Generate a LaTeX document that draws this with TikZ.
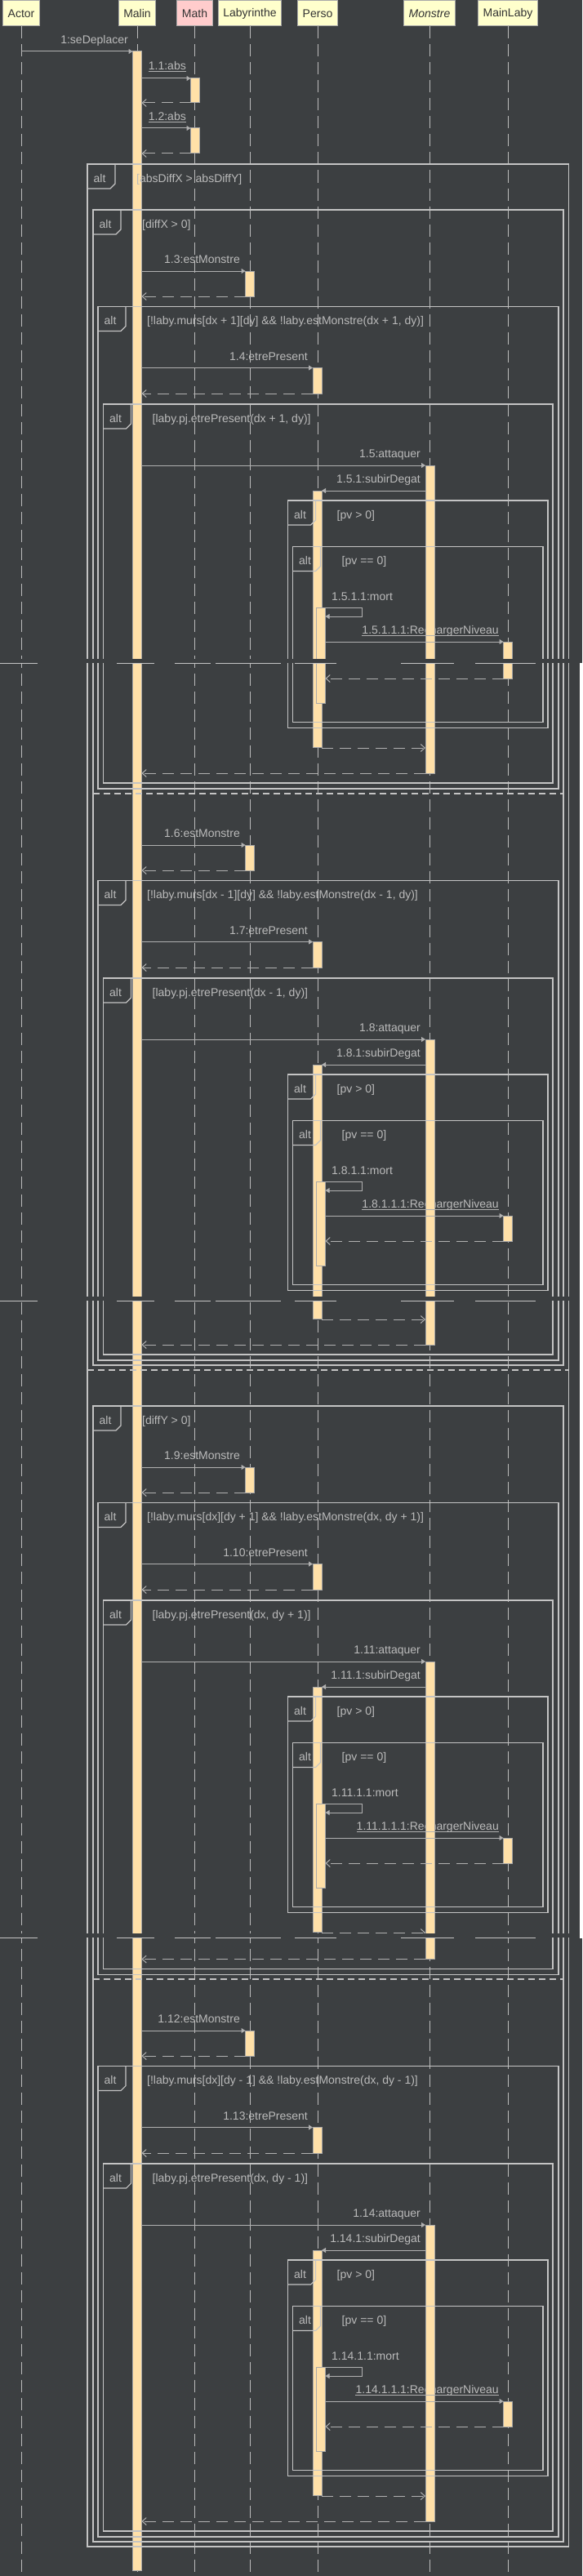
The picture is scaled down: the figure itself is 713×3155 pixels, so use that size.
\documentclass[tikz,border=0pt]{standalone}
\usepackage{fontspec}
\setmainfont{Liberation Sans}
\usetikzlibrary{arrows.meta}

\definecolor{bgdark}{RGB}{60,63,65}
\definecolor{txtgray}{RGB}{187,187,187}
\definecolor{msggray}{RGB}{176,176,176}
\definecolor{framegray}{RGB}{196,196,196}
\definecolor{barfill}{RGB}{255,224,168}
\definecolor{barline}{RGB}{168,168,168}
\definecolor{headfill}{RGB}{255,255,204}
\definecolor{mathpink}{RGB}{255,204,204}
\definecolor{headtext}{RGB}{51,51,51}

\pgfdeclarelayer{lifelayer}
\pgfdeclarelayer{textlayer}
\pgfdeclarelayer{barlayer}
\pgfdeclarelayer{toplayer}
\pgfsetlayers{lifelayer,textlayer,barlayer,main,toplayer}

\tikzset{
  lbl/.style={text=txtgray,font=\fontsize{14}{16}\selectfont,inner sep=0pt},
  head/.style={draw=barline,fill=headfill,text=headtext,font=\fontsize{14}{16}\selectfont,
    inner xsep=6pt,inner ysep=0pt,minimum height=31pt,line width=1pt},
  life/.style={draw=txtgray,line width=1pt,dash pattern=on 15pt off 7pt},
  bar/.style={draw=barline,fill=barfill,line width=1pt},
  frame/.style={draw=framegray,line width=1.1pt},
  sep/.style={draw=framegray,line width=1.1pt,dash pattern=on 8pt off 5pt},
  call/.style={draw=msggray,line width=1pt,-{Triangle[length=5pt,width=6pt]}},
  ret/.style={draw=msggray,line width=1pt,dash pattern=on 14pt off 8pt,-{Straight Barb[length=5pt,width=9pt]}},
  msgline/.style={draw=msggray,line width=1pt}
}

% alt frame: name, left, top, right, bottom, guard
\newcommand{\altbox}[6]{%
  \draw[frame] (#2,#3) rectangle (#4,#5);
  \draw[frame] (#2,#3+30) -- (#2+28,#3+30) -- (#2+34,#3+24) -- (#2+34,#3);
  \node[lbl,anchor=base] (#1alt) at (#2+15,#3+22) {alt};
  \node[lbl,anchor=base west] (#1guard) at (#2+60,#3+22) {#6};
}

% one move branch: top, shifts after page breaks, first number, guards
\newcommand{\branch}[7]{%
  \edef\nb{\the\numexpr#5+1\relax}%
  \edef\nc{\the\numexpr#5+2\relax}%
  \begin{pgfonlayer}{textlayer}
    \node[lbl,anchor=base east] (m#5a) at (294,#1+65.5) {1.#5:estMonstre};
    \node[lbl,anchor=base east] (m#5b) at (377,#1+184) {1.\nb:etrePresent};
    \node[lbl,anchor=base east] (m#5c) at (515,#1+303) {1.\nc:attaquer};
    \node[lbl,anchor=base east] (m#5d) at (515,#1+334.5) {1.\nc.1:subirDegat};
    \node[lbl,anchor=base west] (m#5e) at (406,#1+478) {1.\nc.1.1:mort};
    \node[lbl,anchor=base east] (m#5f) at (611,#1+519) {1.\nc.1.1.1:RechargerNiveau};
  \end{pgfonlayer}
  \begin{pgfonlayer}{barlayer}
    \draw[bar] (300.5,#1+75) rectangle (311.5,#1+106);
    \draw[bar] (383,#1+193.5) rectangle (394,#1+225);
    \draw[bar] (521,#1+313) rectangle (532,#1+676+#4);
    \draw[bar] (383,#1+344) rectangle (394,#1+644+#3);
    \draw[bar] (387.5,#1+487.5) rectangle (398.5,#1+590.5+#2);
    \draw[bar] (616.5,#1+529) rectangle (627.5,#1+560+#2);
  \end{pgfonlayer}
  \altbox{c#5}{120}{#1+118.5}{684}{#1+695+#4}{#6}
  \altbox{d#5}{126.5}{#1+238}{677}{#1+688+#4}{#7}
  \altbox{e#5}{352.5}{#1+356}{671}{#1+620.5+#2}{[pv > 0]}
  \altbox{f#5}{358.5}{#1+412.5}{665}{#1+613.5+#2}{[pv == 0]}
  \draw[call] (173.5,#1+75) -- (300.5,#1+75);
  \draw[ret] (300.5,#1+106) -- (173.5,#1+106);
  \draw[call] (173.5,#1+193.5) -- (383,#1+193.5);
  \draw[ret] (383,#1+225) -- (173.5,#1+225);
  \draw[call] (173.5,#1+313) -- (521,#1+313);
  \draw[call] (521,#1+344) -- (394,#1+344);
  \draw[call] (394,#1+487.5) -- (443,#1+487.5) -- (443,#1+498) -- (398.5,#1+498);
  \draw[msgline] ([yshift=-2pt]m#5f.base west) -- ([yshift=-2pt]m#5f.base east);
  \draw[call] (398.5,#1+529) -- (616.5,#1+529);
  \draw[ret] (616.5,#1+560+#2) -- (398.5,#1+560+#2);
  \draw[ret] (394,#1+645+#3) -- (521,#1+645+#3);
  \draw[ret] (521,#1+676+#4) -- (173.5,#1+676+#4);
}

\begin{document}
\begin{tikzpicture}[x=1pt,y=-1pt,line cap=butt,line join=miter]
  \useasboundingbox (0,0) rectangle (713,3155);
  \begin{pgfonlayer}{lifelayer}
    \fill[bgdark] (0,0) rectangle (713,3155);
  \end{pgfonlayer}

  \node[head] (actor) at (26,16.5) {Actor};
  \node[head] (malin) at (168,16.5) {Malin};
  \node[head,fill=mathpink] (math) at (238.5,16.5) {Math};
  \node[head] (laby) at (306,16.5) {Labyrinthe};
  \node[head] (perso) at (389,16.5) {Perso};
  \node[head,font=\fontsize{14}{16}\selectfont\itshape] (monstre) at (526,16.5) {Monstre};
  \node[head] (mainlaby) at (622,16.5) {MainLaby};

  \begin{pgfonlayer}{lifelayer}
    \foreach \p in {actor,malin,math,laby,perso,monstre,mainlaby}
      \draw[life] (\p.south) -- (\p.south |- 0,3150);
  \end{pgfonlayer}

  \begin{pgfonlayer}{textlayer}
    \node[lbl,anchor=base east] (se) at (157,54) {1:seDeplacer};
    \node[lbl,anchor=base east] (abs1) at (228,86) {1.1:abs};
    \node[lbl,anchor=base east] (abs2) at (228,148) {1.2:abs};
  \end{pgfonlayer}
  \begin{pgfonlayer}{barlayer}
    \draw[bar] (162.5,63) rectangle (173.5,3148);
    \draw[bar] (233.5,96) rectangle (244.5,126);
    \draw[bar] (233.5,157) rectangle (244.5,188);
  \end{pgfonlayer}

  \draw[call] (actor.south |- 0,63) -- (162.5,63);
  \draw[msgline] ([yshift=-2pt]abs1.base west) -- ([yshift=-2pt]abs1.base east);
  \draw[call] (173.5,96) -- (233.5,96);
  \draw[ret] (233.5,126) -- (173.5,126);
  \draw[msgline] ([yshift=-2pt]abs2.base west) -- ([yshift=-2pt]abs2.base east);
  \draw[call] (173.5,157) -- (233.5,157);
  \draw[ret] (233.5,188) -- (173.5,188);

  \altbox{a}{107}{201}{696.5}{3119}{[absDiffX > absDiffY]}
  \draw[sep] (107,1678) -- (696.5,1678);
  \altbox{bx}{114}{257}{690}{1672}{[diffX > 0]}
  \draw[sep] (114,972) -- (690,972);
  \altbox{by}{114}{1722}{690}{3113}{[diffY > 0]}
  \draw[sep] (114,2424) -- (690,2424);

  \branch{257}{14}{14}{14}{3}{[!laby.murs[dx + 1][dy] \&\& !laby.estMonstre(dx + 1, dy)]}{[laby.pj.etrePresent(dx + 1, dy)]}
  \branch{960}{0}{11}{11}{6}{[!laby.murs[dx - 1][dy] \&\& !laby.estMonstre(dx - 1, dy)]}{[laby.pj.etrePresent(dx - 1, dy)]}
  \branch{1722}{0}{0}{1.5}{9}{[!laby.murs[dx][dy + 1] \&\& !laby.estMonstre(dx, dy + 1)]}{[laby.pj.etrePresent(dx, dy + 1)]}
  \branch{2412}{0}{0}{0}{12}{[!laby.murs[dx][dy - 1] \&\& !laby.estMonstre(dx, dy - 1)]}{[laby.pj.etrePresent(dx, dy - 1)]}

  \begin{pgfonlayer}{toplayer}
    \foreach \yb in {806.8,1587.8,2368} {
      \fill[bgdark] (0,\yb) rectangle (713,\yb+4.7);
      \foreach \a/\b in {0/46,143/189,214/258,264/344,361/412,491/556,582/656}
        \draw[frame] (\a,\yb+5.3) -- (\b,\yb+5.3);
    }
    \fill[white] (709.5,811.6) rectangle (713,2373.5);
  \end{pgfonlayer}
\end{tikzpicture}
\end{document}
